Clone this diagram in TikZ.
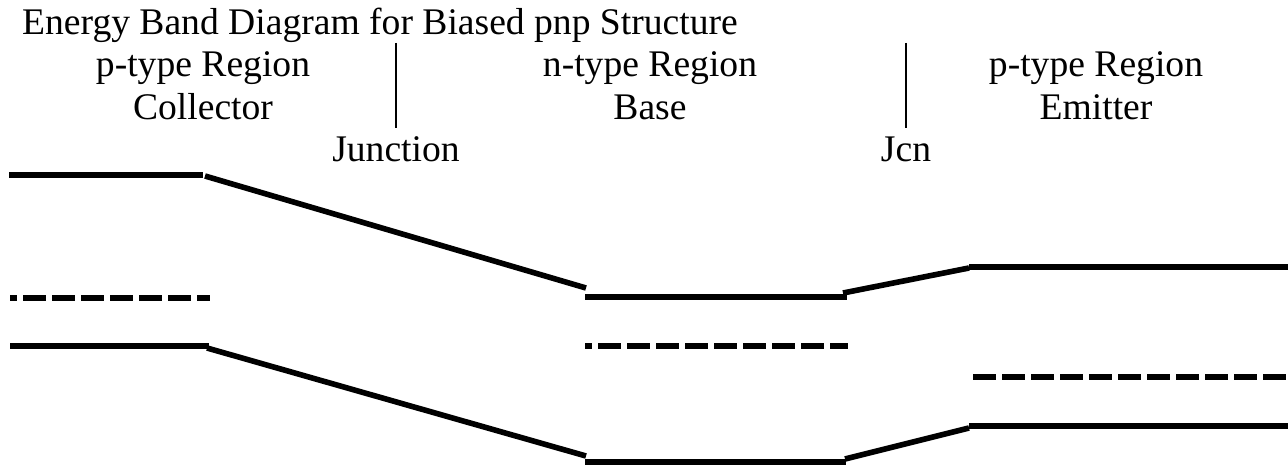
\documentclass[tikz,border=0pt]{standalone}
\usepackage{fontspec}
\setmainfont{Liberation Serif}
\begin{document}
\begin{tikzpicture}[x=1pt,y=-1pt,
  lbl/.style={inner sep=0pt,anchor=base,font=\rmfamily\fontsize{37.6}{44}\selectfont},
  band/.style={line width=5.6pt,line cap=butt},
  fermi/.style={line width=5.6pt,dash pattern=on 23pt off 6pt},
  jline/.style={line width=2pt}]
\useasboundingbox[fill=white] (0,0) rectangle (1288,465);
% texts
\node[lbl,anchor=base west] (title) at (22,35) {Energy Band Diagram for Biased pnp Structure};
\node[lbl] (cr) at (203,77) {p-type Region};
\node[lbl] (cc) at (203,120) {Collector};
\node[lbl] (br) at (650,77) {n-type Region};
\node[lbl] (bb) at (650,120) {Base};
\node[lbl] (er) at (1096,77) {p-type Region};
\node[lbl] (ee) at (1096,120) {Emitter};
\node[lbl] (j1) at (396,162) {Junction};
\node[lbl] (j2) at (906,162) {Jcn};
% junction markers
\coordinate (j1t) at (396,43); \coordinate (j1b) at (396,128);
\coordinate (j2t) at (906,43); \coordinate (j2b) at (906,128);
\draw[jline] (j1t) -- (j1b);
\draw[jline] (j2t) -- (j2b);
% conduction band
\coordinate (c1) at (9,175); \coordinate (c2) at (203,175);
\coordinate (c3) at (205,176); \coordinate (c4) at (586,288);
\coordinate (c5) at (585,297); \coordinate (c6) at (847,297);
\coordinate (c7) at (843,293); \coordinate (c8) at (969,268);
\coordinate (c9) at (969,267); \coordinate (c10) at (1288,267);
\draw[band] (c1) -- (c2);
\draw[band] (c3) -- (c4);
\draw[band] (c5) -- (c6);
\draw[band] (c7) -- (c8);
\draw[band] (c9) -- (c10);
% valence band
\coordinate (v1) at (10,346); \coordinate (v2) at (209,346);
\coordinate (v3) at (207,348); \coordinate (v4) at (586,456);
\coordinate (v5) at (585,462); \coordinate (v6) at (846,462);
\coordinate (v7) at (845,459); \coordinate (v8) at (969,428);
\coordinate (v9) at (969,426); \coordinate (v10) at (1288,426);
\draw[band] (v1) -- (v2);
\draw[band] (v3) -- (v4);
\draw[band] (v5) -- (v6);
\draw[band] (v7) -- (v8);
\draw[band] (v9) -- (v10);
% Fermi levels
\coordinate (f1) at (10,298); \coordinate (f2) at (210,298);
\coordinate (f3) at (585,346); \coordinate (f4) at (848,346);
\coordinate (f5) at (973,377); \coordinate (f6) at (1288,377);
\draw[fermi,dash phase=16pt] (f1) -- (f2);
\draw[fermi,dash phase=16pt] (f3) -- (f4);
\draw[fermi] (f5) -- (f6);
\end{tikzpicture}
\end{document}
